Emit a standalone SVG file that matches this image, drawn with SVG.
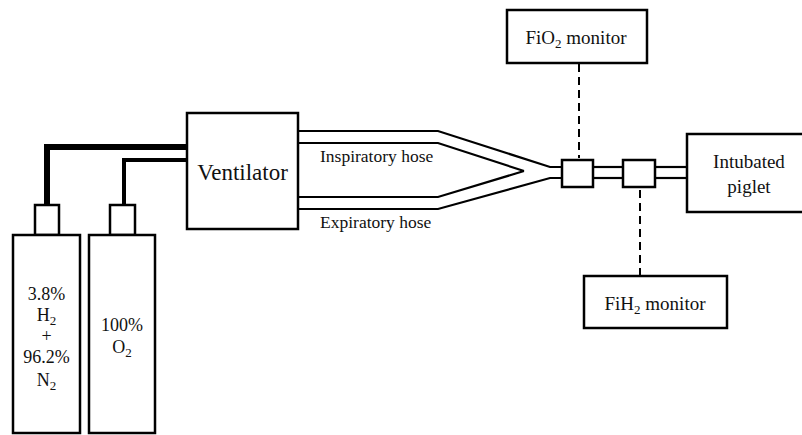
<svg xmlns="http://www.w3.org/2000/svg" width="802" height="435" viewBox="0 0 802 435">
  <style>
    .box { fill: #fff; stroke: #000; stroke-width: 2.5; }
    .hose { fill: none; stroke: #000; stroke-width: 2.2; stroke-linejoin: miter; }
    .gas { fill: none; stroke: #000; stroke-linejoin: miter; }
    .dash { fill: none; stroke: #000; stroke-width: 2; stroke-dasharray: 8 5; }
    text { font-family: "Liberation Serif", "Times New Roman", serif; fill: #111; }
    .lbl { font-size: 19px; text-anchor: middle; }
    .cyl { font-size: 18px; text-anchor: middle; }
    .big { font-size: 23px; text-anchor: middle; }
    .hl { font-size: 17.5px; }
    .sub { font-size: 13px; }
  </style>
  <rect width="802" height="435" fill="#fff"/>

  <!-- connectors: gas supply lines, hoses, tubing and monitor leads -->
  <g id="connectors">
    <polyline class="gas" stroke-width="6" points="47,205 47,147 187,147"/>
    <polyline class="gas" stroke-width="4" points="124,205 124,160 187,160"/>
    <!-- inspiratory hose -->
    <polyline class="hose" points="298,131 438,131 550,167 562,167"/>
    <polyline class="hose" points="298,143 438,143 524,171"/>
    <!-- expiratory hose -->
    <polyline class="hose" points="298,209 438,209 550,178 562,178"/>
    <polyline class="hose" points="298,197 438,197 524,171"/>
    <!-- tubing between sensors and patient -->
    <line class="hose" x1="593" y1="167" x2="623" y2="167"/>
    <line class="hose" x1="593" y1="178" x2="623" y2="178"/>
    <line class="hose" x1="655" y1="167" x2="687" y2="167"/>
    <line class="hose" x1="655" y1="178" x2="687" y2="178"/>
    <!-- monitor leads -->
    <line class="dash" x1="579" y1="64" x2="579" y2="158"/>
    <line class="dash" x1="640" y1="190" x2="640" y2="275"/>
  </g>

  <g id="cylinder-h2n2">
    <rect class="box" x="35" y="205" width="24" height="30"/>
    <rect class="box" x="13" y="235" width="67" height="198"/>
    <text class="cyl" x="46.5" y="300">3.8%</text>
    <text class="cyl" x="46.5" y="321">H<tspan class="sub" dy="4">2</tspan></text>
    <text class="cyl" x="46.5" y="342">+</text>
    <text class="cyl" x="46.5" y="363">96.2%</text>
    <text class="cyl" x="46.5" y="386">N<tspan class="sub" dy="4">2</tspan></text>
  </g>

  <g id="cylinder-o2">
    <rect class="box" x="110" y="205" width="25" height="30"/>
    <rect class="box" x="89" y="235" width="66" height="198"/>
    <text class="cyl" x="122" y="331">100%</text>
    <text class="cyl" x="122" y="353">O<tspan class="sub" dy="4">2</tspan></text>
  </g>

  <g id="ventilator">
    <rect class="box" x="187" y="113" width="111" height="116"/>
    <text class="big" x="242.5" y="180">Ventilator</text>
  </g>

  <g id="hose-labels">
    <text class="hl" x="320" y="162">Inspiratory hose</text>
    <text class="hl" x="320" y="228">Expiratory hose</text>
  </g>

  <g id="sensor-fio2">
    <rect class="box" x="562" y="160" width="31" height="27"/>
  </g>

  <g id="sensor-fih2">
    <rect class="box" x="623" y="160" width="32" height="27"/>
  </g>

  <g id="fio2-monitor">
    <rect class="box" x="507" y="10" width="140" height="53"/>
    <text class="lbl" x="576" y="44">FiO<tspan class="sub" dy="4">2</tspan><tspan dy="-4"> monitor</tspan></text>
  </g>

  <g id="fih2-monitor">
    <rect class="box" x="584" y="276" width="143" height="52"/>
    <text class="lbl" x="655" y="310">FiH<tspan class="sub" dy="4">2</tspan><tspan dy="-4"> monitor</tspan></text>
  </g>

  <g id="piglet">
    <rect class="box" x="687" y="134" width="120" height="78"/>
    <text class="lbl" x="749" y="168">Intubated</text>
    <text class="lbl" x="749" y="193">piglet</text>
  </g>
</svg>
